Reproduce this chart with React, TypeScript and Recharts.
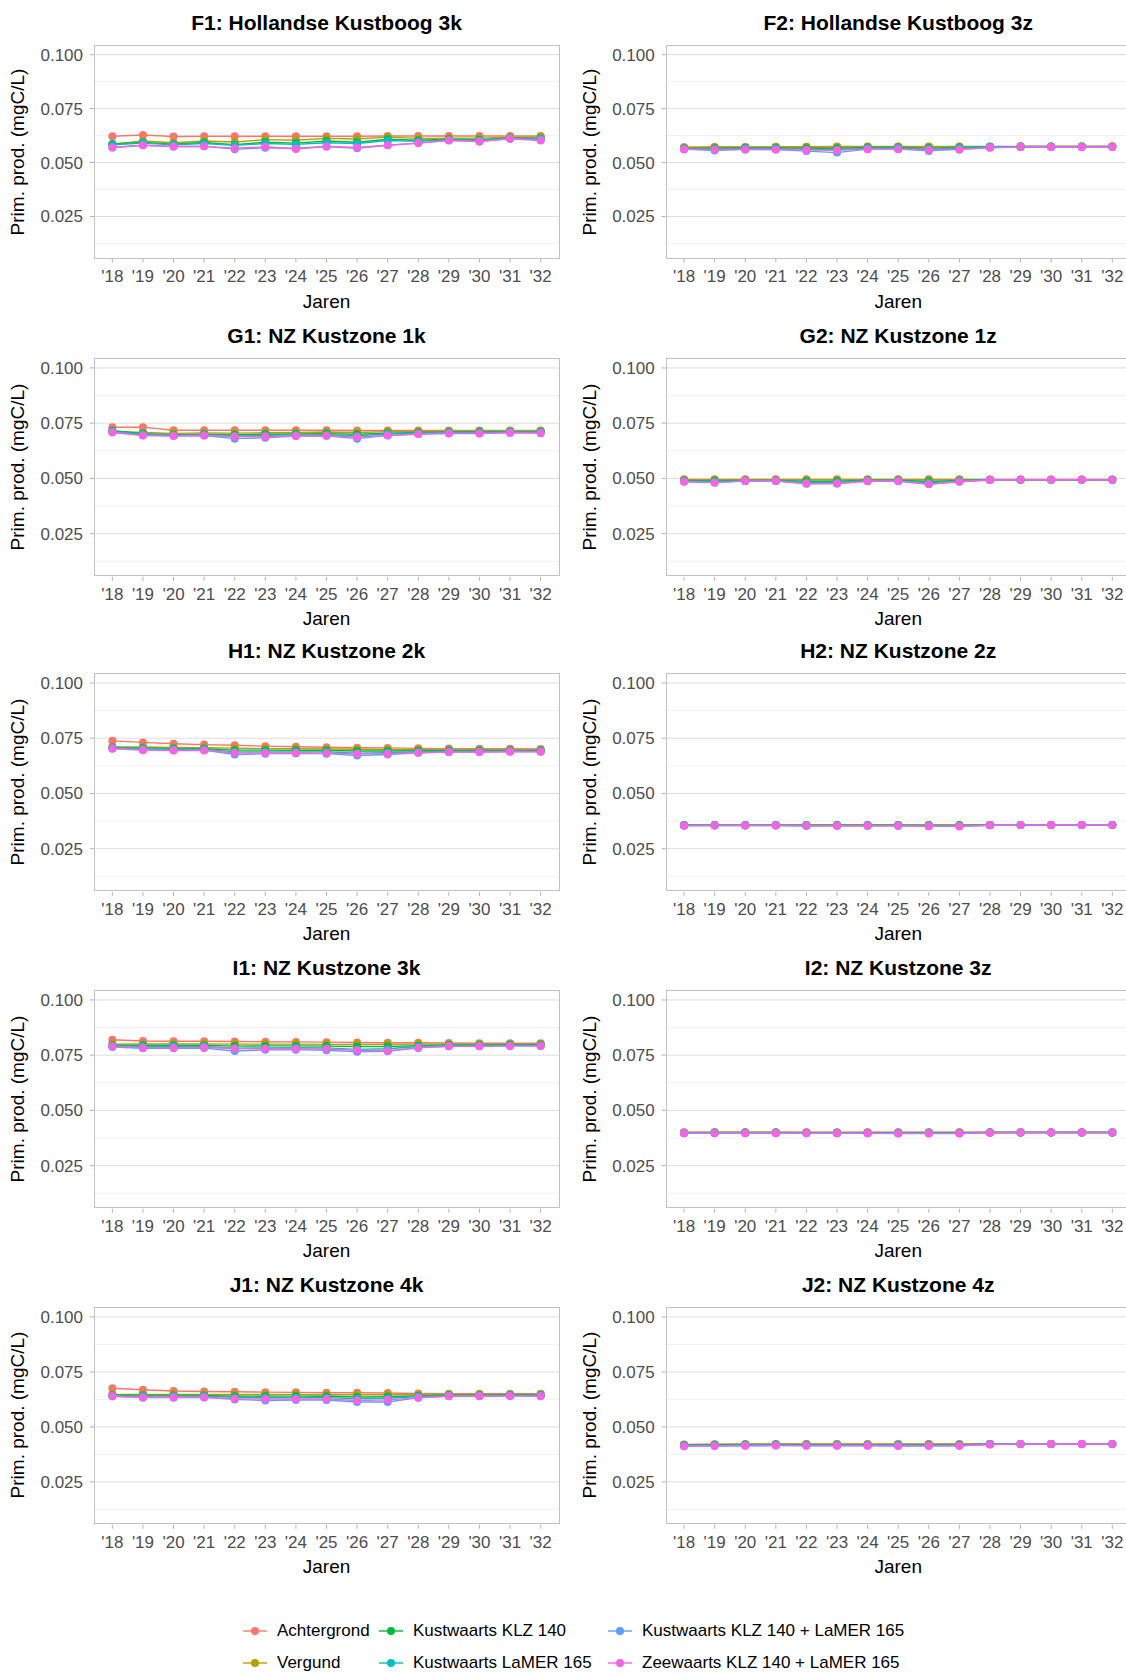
import { LineChart, Line, XAxis, YAxis, CartesianGrid } from "recharts";

const years = ["'18", "'19", "'20", "'21", "'22", "'23", "'24", "'25", "'26", "'27", "'28", "'29", "'30", "'31", "'32"];

const seriesNames = [
  "Achtergrond",
  "Vergund",
  "Kustwaarts KLZ 140",
  "Kustwaarts LaMER 165",
  "Kustwaarts KLZ 140 + LaMER 165",
  "Zeewaarts KLZ 140 + LaMER 165",
];
const seriesColors = ["#F8766D", "#B79F00", "#00BA38", "#00BFC4", "#619CFF", "#F564E3"];

const yTicks = [0.025, 0.05, 0.075, 0.1];
const yMinor = [0.0125, 0.0375, 0.0625, 0.0875];

// one row per series, same order as seriesNames
const f1 = [
  [0.0622, 0.0628, 0.0621, 0.0622, 0.0622, 0.0622, 0.0622, 0.0622, 0.0622, 0.0623, 0.0623, 0.0623, 0.0623, 0.0623, 0.0623],
  [0.0585, 0.06, 0.0592, 0.06, 0.0595, 0.0606, 0.0603, 0.0612, 0.0609, 0.0618, 0.0612, 0.0613, 0.0613, 0.0617, 0.0618],
  [0.0586, 0.0593, 0.0585, 0.0593, 0.0583, 0.0594, 0.059, 0.06, 0.0594, 0.0608, 0.0603, 0.0608, 0.0606, 0.0614, 0.0612],
  [0.0582, 0.059, 0.0582, 0.0588, 0.058, 0.0588, 0.0584, 0.0592, 0.0588, 0.0602, 0.0598, 0.0605, 0.0602, 0.0612, 0.061],
  [0.057, 0.058, 0.0574, 0.0575, 0.0562, 0.0568, 0.0566, 0.0574, 0.0566, 0.058, 0.059, 0.0603, 0.0598, 0.0611, 0.0605],
  [0.057, 0.058, 0.0574, 0.0575, 0.0566, 0.0573, 0.0563, 0.0574, 0.057, 0.058, 0.059, 0.0602, 0.0597, 0.061, 0.0602],
];
const f2 = [
  [0.0571, 0.0572, 0.0572, 0.0573, 0.0573, 0.0574, 0.0574, 0.0574, 0.0574, 0.0574, 0.0574, 0.0574, 0.0574, 0.0574, 0.0574],
  [0.057, 0.0571, 0.0571, 0.0572, 0.0572, 0.0572, 0.0573, 0.0573, 0.0573, 0.0573, 0.0573, 0.0574, 0.0574, 0.0574, 0.0574],
  [0.0565, 0.0566, 0.0568, 0.0568, 0.0566, 0.0566, 0.057, 0.057, 0.0567, 0.057, 0.0573, 0.0574, 0.0574, 0.0574, 0.0574],
  [0.0564, 0.0562, 0.0565, 0.0565, 0.0561, 0.056, 0.0567, 0.0567, 0.0563, 0.0566, 0.0572, 0.0573, 0.0573, 0.0573, 0.0573],
  [0.0562, 0.0556, 0.0561, 0.056, 0.0553, 0.0546, 0.0562, 0.0562, 0.0554, 0.0561, 0.057, 0.0572, 0.0572, 0.0572, 0.0572],
  [0.0561, 0.056, 0.0561, 0.056, 0.0558, 0.0557, 0.0562, 0.0562, 0.0559, 0.0561, 0.0568, 0.0572, 0.0572, 0.0572, 0.0572],
];
const g1 = [
  [0.0732, 0.0732, 0.0718, 0.0718, 0.0718, 0.0718, 0.0718, 0.0718, 0.0717, 0.0717, 0.0717, 0.0717, 0.0717, 0.0717, 0.0717],
  [0.0714, 0.0708, 0.0704, 0.0706, 0.0705, 0.0707, 0.0708, 0.071, 0.0708, 0.0712, 0.0713, 0.0714, 0.0714, 0.0715, 0.0715],
  [0.0716, 0.0703, 0.0698, 0.07, 0.0698, 0.07, 0.0701, 0.0703, 0.07, 0.0705, 0.0708, 0.071, 0.0711, 0.0712, 0.0712],
  [0.0712, 0.07, 0.0696, 0.0698, 0.0692, 0.0694, 0.0697, 0.0698, 0.0692, 0.0702, 0.0705, 0.0708, 0.0708, 0.071, 0.071],
  [0.071, 0.0696, 0.0693, 0.0694, 0.068, 0.0684, 0.0692, 0.0693, 0.068, 0.0695, 0.0702, 0.0705, 0.0705, 0.0708, 0.0707],
  [0.0708, 0.0694, 0.0692, 0.0694, 0.069, 0.069, 0.0692, 0.0693, 0.0688, 0.0694, 0.07, 0.0703, 0.0703, 0.0706, 0.0705],
];
const g2 = [
  [0.0496, 0.0496, 0.0496, 0.0496, 0.0496, 0.0496, 0.0496, 0.0496, 0.0496, 0.0496, 0.0495, 0.0495, 0.0495, 0.0495, 0.0495],
  [0.0494, 0.0494, 0.0494, 0.0494, 0.0494, 0.0494, 0.0494, 0.0494, 0.0494, 0.0494, 0.0494, 0.0494, 0.0494, 0.0494, 0.0494],
  [0.049, 0.049, 0.0491, 0.0491, 0.0487, 0.0487, 0.0492, 0.0492, 0.0486, 0.0491, 0.0494, 0.0494, 0.0494, 0.0494, 0.0494],
  [0.0488, 0.0486, 0.0489, 0.049, 0.0482, 0.0482, 0.049, 0.049, 0.048, 0.0488, 0.0494, 0.0494, 0.0494, 0.0494, 0.0494],
  [0.0486, 0.0482, 0.0489, 0.0489, 0.0477, 0.0477, 0.0488, 0.0488, 0.0475, 0.0486, 0.0493, 0.0494, 0.0494, 0.0494, 0.0494],
  [0.0485, 0.0481, 0.0488, 0.0488, 0.0476, 0.0477, 0.0487, 0.0487, 0.0474, 0.0485, 0.0493, 0.0494, 0.0494, 0.0494, 0.0493],
];
const h1 = [
  [0.0738, 0.0731, 0.0725, 0.0721, 0.0718, 0.0714, 0.0711, 0.0709, 0.0707, 0.0706, 0.0704, 0.0703, 0.0702, 0.0702, 0.0701],
  [0.071, 0.071, 0.0708, 0.0707, 0.0705, 0.0703, 0.0702, 0.0701, 0.07, 0.0699, 0.0698, 0.0697, 0.0697, 0.0697, 0.0697],
  [0.0708, 0.0705, 0.0703, 0.0702, 0.0696, 0.0696, 0.0695, 0.0694, 0.0692, 0.0692, 0.0693, 0.0694, 0.0694, 0.0694, 0.0694],
  [0.0706, 0.0702, 0.07, 0.0699, 0.0688, 0.0688, 0.0688, 0.0688, 0.0682, 0.0684, 0.0688, 0.069, 0.069, 0.0691, 0.0691],
  [0.0704, 0.0698, 0.0696, 0.0696, 0.0676, 0.068, 0.0681, 0.068, 0.0672, 0.0676, 0.0684, 0.0688, 0.0688, 0.069, 0.069],
  [0.0702, 0.0696, 0.0694, 0.0694, 0.0684, 0.0683, 0.0683, 0.0682, 0.068, 0.068, 0.0684, 0.0687, 0.0687, 0.0689, 0.0689],
];
const h2 = [
  [0.0357, 0.0357, 0.0357, 0.0357, 0.0357, 0.0357, 0.0357, 0.0357, 0.0357, 0.0357, 0.0357, 0.0357, 0.0357, 0.0357, 0.0357],
  [0.0357, 0.0357, 0.0357, 0.0357, 0.0357, 0.0357, 0.0357, 0.0357, 0.0357, 0.0357, 0.0357, 0.0357, 0.0357, 0.0357, 0.0357],
  [0.0356, 0.0356, 0.0356, 0.0356, 0.0356, 0.0356, 0.0356, 0.0356, 0.0355, 0.0355, 0.0357, 0.0357, 0.0357, 0.0357, 0.0357],
  [0.0356, 0.0356, 0.0356, 0.0356, 0.0355, 0.0355, 0.0355, 0.0355, 0.0354, 0.0354, 0.0356, 0.0357, 0.0357, 0.0357, 0.0357],
  [0.0355, 0.0355, 0.0355, 0.0355, 0.0354, 0.0354, 0.0354, 0.0354, 0.0352, 0.0353, 0.0356, 0.0357, 0.0357, 0.0357, 0.0357],
  [0.0354, 0.0355, 0.0355, 0.0355, 0.0354, 0.0354, 0.0354, 0.0354, 0.0352, 0.0351, 0.0356, 0.0357, 0.0357, 0.0357, 0.0357],
];
const i1 = [
  [0.082, 0.0814, 0.0813, 0.0813, 0.0812, 0.0811, 0.081, 0.0809, 0.0807, 0.0806, 0.0806, 0.0805, 0.0804, 0.0804, 0.0804],
  [0.08, 0.0801, 0.0801, 0.0801, 0.08, 0.08, 0.08, 0.0799, 0.0799, 0.0799, 0.08, 0.08, 0.08, 0.08, 0.08],
  [0.0795, 0.0795, 0.0795, 0.0795, 0.0791, 0.0792, 0.0792, 0.0791, 0.0789, 0.0789, 0.0793, 0.0796, 0.0796, 0.0797, 0.0797],
  [0.0791, 0.079, 0.079, 0.079, 0.0781, 0.0783, 0.0784, 0.0783, 0.0776, 0.0779, 0.0789, 0.0793, 0.0793, 0.0795, 0.0795],
  [0.0787, 0.0781, 0.0781, 0.0782, 0.0769, 0.0774, 0.0775, 0.0772, 0.0765, 0.0768, 0.0783, 0.079, 0.079, 0.0792, 0.0792],
  [0.079, 0.0784, 0.0784, 0.0785, 0.078, 0.0779, 0.0779, 0.0778, 0.0772, 0.077, 0.0784, 0.079, 0.079, 0.0792, 0.0791],
];
const i2 = [
  [0.0401, 0.0401, 0.0401, 0.0401, 0.0401, 0.0401, 0.0401, 0.0401, 0.0401, 0.0401, 0.0401, 0.0401, 0.0401, 0.0401, 0.0401],
  [0.04, 0.04, 0.04, 0.04, 0.04, 0.04, 0.04, 0.04, 0.04, 0.04, 0.04, 0.04, 0.04, 0.04, 0.04],
  [0.0399, 0.04, 0.04, 0.04, 0.0399, 0.0399, 0.0399, 0.0399, 0.0399, 0.0399, 0.04, 0.04, 0.04, 0.04, 0.04],
  [0.0398, 0.0399, 0.0399, 0.0399, 0.0398, 0.0398, 0.0398, 0.0398, 0.0398, 0.0398, 0.04, 0.04, 0.04, 0.04, 0.04],
  [0.0397, 0.0398, 0.0398, 0.0398, 0.0397, 0.0397, 0.0397, 0.0397, 0.0396, 0.0396, 0.0399, 0.04, 0.04, 0.04, 0.04],
  [0.0396, 0.0397, 0.0397, 0.0397, 0.0396, 0.0396, 0.0396, 0.0395, 0.0395, 0.0395, 0.0399, 0.04, 0.04, 0.04, 0.04],
];
const j1 = [
  [0.0676, 0.0669, 0.0663, 0.0661, 0.066, 0.0658, 0.0657, 0.0655, 0.0655, 0.0654, 0.0652, 0.0651, 0.0651, 0.0651, 0.0651],
  [0.0648, 0.0648, 0.0648, 0.0648, 0.0647, 0.0647, 0.0647, 0.0646, 0.0646, 0.0646, 0.0646, 0.0647, 0.0647, 0.0647, 0.0647],
  [0.0644, 0.0643, 0.0643, 0.0643, 0.0639, 0.064, 0.064, 0.0639, 0.0636, 0.0637, 0.0641, 0.0644, 0.0644, 0.0645, 0.0645],
  [0.0642, 0.064, 0.064, 0.064, 0.0634, 0.0633, 0.0633, 0.0633, 0.0628, 0.063, 0.0638, 0.0642, 0.0642, 0.0643, 0.0643],
  [0.0639, 0.0633, 0.0633, 0.0634, 0.0625, 0.062, 0.0622, 0.0622, 0.0613, 0.0613, 0.0633, 0.064, 0.064, 0.0642, 0.0642],
  [0.0639, 0.0635, 0.0635, 0.0635, 0.0628, 0.0627, 0.0627, 0.0627, 0.062, 0.0623, 0.0632, 0.0639, 0.0639, 0.064, 0.0639],
];
const j2 = [
  [0.042, 0.0421, 0.0421, 0.0422, 0.0422, 0.0422, 0.0422, 0.0422, 0.0422, 0.0422, 0.0422, 0.0422, 0.0422, 0.0422, 0.0422],
  [0.0419, 0.042, 0.0421, 0.0421, 0.0421, 0.0421, 0.0421, 0.0421, 0.0421, 0.0421, 0.0422, 0.0422, 0.0422, 0.0422, 0.0422],
  [0.0418, 0.0419, 0.042, 0.042, 0.0419, 0.0419, 0.0419, 0.0419, 0.0419, 0.0419, 0.0422, 0.0422, 0.0422, 0.0422, 0.0422],
  [0.0416, 0.0417, 0.0418, 0.0419, 0.0418, 0.0418, 0.0418, 0.0418, 0.0417, 0.0417, 0.0421, 0.0422, 0.0422, 0.0422, 0.0422],
  [0.0413, 0.0414, 0.0415, 0.0416, 0.0415, 0.0415, 0.0415, 0.0414, 0.0414, 0.0414, 0.0421, 0.0422, 0.0422, 0.0422, 0.0422],
  [0.0412, 0.0413, 0.0414, 0.0415, 0.0414, 0.0414, 0.0414, 0.0413, 0.0414, 0.0414, 0.042, 0.0422, 0.0422, 0.0422, 0.0422],
];

const panelTitles = [
  "F1: Hollandse Kustboog 3k",
  "F2: Hollandse Kustboog 3z",
  "G1: NZ Kustzone 1k",
  "G2: NZ Kustzone 1z",
  "H1: NZ Kustzone 2k",
  "H2: NZ Kustzone 2z",
  "I1: NZ Kustzone 3k",
  "I2: NZ Kustzone 3z",
  "J1: NZ Kustzone 4k",
  "J2: NZ Kustzone 4z",
];
const panelValues = [f1, f2, g1, g2, h1, h2, i1, i2, j1, j2];

// layout (px)
const ROW_TOP = [45, 357.5, 672.5, 989.5, 1306.5];
const ROW_H = [213.5, 218.8, 218.8, 218.7, 217.8];
const PLOT_LEFT = [94, 665.7];
const CHART_LEFT = [0, 563];
const PLOT_W = 465;
const X_PAD = (0.6 / 15.2) * PLOT_W;
const FONT = "Arial, 'Liberation Sans', Helvetica, sans-serif";

function Panel({ idx }: { idx: number }) {
  const col = idx % 2;
  const row = Math.floor(idx / 2);
  const values = panelValues[idx];
  const top = ROW_TOP[row];
  const h = ROW_H[row];
  const plotLeft = PLOT_LEFT[col];
  const chartLeft = CHART_LEFT[col];
  const yw = plotLeft - chartLeft;
  const cx = plotLeft + PLOT_W / 2;

  const data = years.map((y, i) => {
    const d: Record<string, string | number> = { year: y };
    values.forEach((s, k) => {
      d["s" + k] = s[i];
    });
    return d;
  });

  return (
    <>
      <div
        style={{
          position: "absolute",
          left: cx - 300,
          width: 600,
          top: top - 22 - 13,
          lineHeight: "26px",
          textAlign: "center",
          fontSize: 21,
          fontWeight: "bold",
          color: "#000",
        }}
      >
        {panelTitles[idx]}
      </div>
      <div
        style={{
          position: "absolute",
          left: plotLeft - 76 - 150,
          top: top + h / 2 - 12,
          width: 300,
          lineHeight: "24px",
          textAlign: "center",
          fontSize: 19,
          transform: "rotate(-90deg)",
          color: "#000",
        }}
      >
        Prim. prod. (mgC/L)
      </div>
      <div
        style={{
          position: "absolute",
          left: cx - 100,
          width: 200,
          top: top + h + 43 - 12,
          lineHeight: "24px",
          textAlign: "center",
          fontSize: 19,
          color: "#000",
        }}
      >
        Jaren
      </div>
      <div style={{ position: "absolute", left: chartLeft, top }}>
        <LineChart
          width={yw + PLOT_W + 6}
          height={h + 40}
          data={data}
          margin={{ top: 0, right: 6, bottom: 0, left: 0 }}
        >
          <CartesianGrid vertical={false} horizontalValues={yMinor} stroke="#EBEBEB" strokeWidth={0.7} />
          <CartesianGrid vertical={false} horizontalValues={yTicks} stroke="#DEDEDE" strokeWidth={1} />
          <XAxis
            dataKey="year"
            height={40}
            interval={0}
            padding={{ left: X_PAD, right: X_PAD }}
            axisLine={false}
            tickSize={4}
            tickMargin={7}
            tickLine={{ stroke: "#B3B3B3" }}
            tick={{ fill: "#4D4D4D", fontSize: 17 }}
          />
          <YAxis
            type="number"
            width={yw}
            domain={[0.0055, 0.1045]}
            ticks={yTicks}
            allowDataOverflow
            axisLine={false}
            tickSize={4}
            tickMargin={7}
            tickLine={{ stroke: "#B3B3B3" }}
            tick={{ fill: "#4D4D4D", fontSize: 17 }}
            tickFormatter={(v: number) => v.toFixed(3)}
          />
          {seriesColors.map((c, k) => (
            <Line
              key={"l" + k}
              type="linear"
              dataKey={"s" + k}
              stroke={c}
              strokeWidth={1.4}
              dot={false}
              activeDot={false}
              isAnimationActive={false}
            />
          ))}
          {seriesColors.map((c, k) => (
            <Line
              key={"p" + k}
              type="linear"
              dataKey={"s" + k}
              stroke="none"
              dot={{ r: 4, fill: c, stroke: c, strokeWidth: 0 }}
              activeDot={false}
              isAnimationActive={false}
            />
          ))}
        </LineChart>
      </div>
      <div
        style={{
          position: "absolute",
          left: plotLeft,
          top,
          width: PLOT_W + 0.5,
          height: h,
          border: "1px solid #C2C2C2",
          boxSizing: "border-box",
          pointerEvents: "none",
        }}
      />
    </>
  );
}

const legendX = [243, 379, 608];
const legendRowY = [1631, 1663];

function LegendItem({ k }: { k: number }) {
  const col = Math.floor(k / 2);
  const row = k % 2;
  return (
    <div
      style={{
        position: "absolute",
        left: legendX[col],
        top: legendRowY[row] - 12,
        height: 24,
        display: "flex",
        alignItems: "center",
        whiteSpace: "nowrap",
      }}
    >
      <svg width={24} height={24}>
        <line x1={0} y1={12} x2={24} y2={12} stroke={seriesColors[k]} strokeWidth={1.4} />
        <circle cx={12} cy={12} r={4} fill={seriesColors[k]} />
      </svg>
      <span style={{ marginLeft: 10, fontSize: 17, color: "#000" }}>{seriesNames[k]}</span>
    </div>
  );
}

export default function App() {
  return (
    <div
      style={{
        position: "absolute",
        left: 0,
        top: 0,
        width: 1126,
        height: 1674,
        overflow: "hidden",
        background: "#fff",
        fontFamily: FONT,
      }}
    >
      {panelTitles.map((_, i) => (
        <Panel key={i} idx={i} />
      ))}
      {seriesNames.map((_, k) => (
        <LegendItem key={k} k={k} />
      ))}
    </div>
  );
}
